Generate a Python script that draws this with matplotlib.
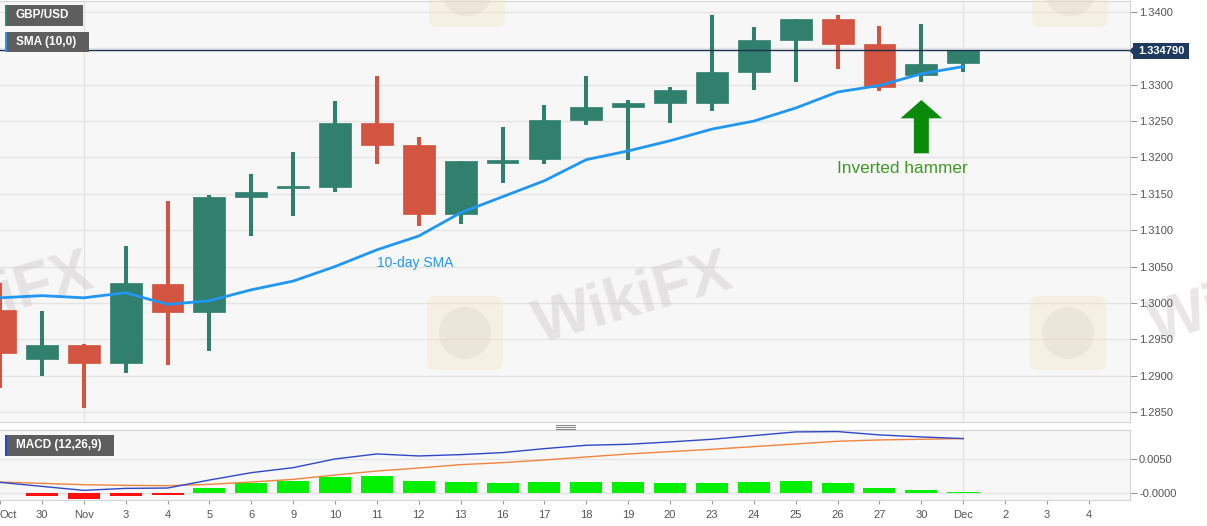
import matplotlib
matplotlib.use('Agg')
import matplotlib.pyplot as plt
from matplotlib.patches import Rectangle, FancyArrow, FancyBboxPatch, Circle, Polygon
from matplotlib.lines import Line2D
from matplotlib.transforms import Affine2D
import numpy as np

plt.rcParams['font.family'] = ['Liberation Sans', 'DejaVu Sans']

# ---------------- data ----------------
dates = ['Oct 29', 'Oct 30', 'Nov 2', 'Nov 3', 'Nov 4', 'Nov 5', 'Nov 6', 'Nov 9',
         'Nov 10', 'Nov 11', 'Nov 12', 'Nov 13', 'Nov 16', 'Nov 17', 'Nov 18',
         'Nov 19', 'Nov 20', 'Nov 23', 'Nov 24', 'Nov 25', 'Nov 26', 'Nov 27',
         'Nov 30', 'Dec 1']
tick_labels = ['Oct', '30', 'Nov', '3', '4', '5', '6', '9', '10', '11', '12', '13',
               '16', '17', '18', '19', '20', '23', '24', '25', '26', '27', '30',
               'Dec', '2', '3', '4']
opens = [1.2990, 1.2923, 1.2942, 1.2918, 1.3026, 1.2988, 1.3146, 1.3158, 1.3160,
         1.3248, 1.3217, 1.3122, 1.3193, 1.3198, 1.3252, 1.3270, 1.3275, 1.3275,
         1.3318, 1.3362, 1.3391, 1.3356, 1.3313, 1.3330]
highs = [1.3027, 1.2989, 1.2943, 1.3078, 1.3140, 1.3148, 1.3177, 1.3208, 1.3278,
         1.3312, 1.3228, 1.3195, 1.3242, 1.3272, 1.3312, 1.3279, 1.3297, 1.3396,
         1.3380, 1.3391, 1.3396, 1.3381, 1.3384, 1.3348]
lows = [1.2883, 1.2900, 1.2855, 1.2904, 1.2915, 1.2934, 1.3092, 1.3119, 1.3153,
        1.3191, 1.3106, 1.3108, 1.3165, 1.3191, 1.3244, 1.3196, 1.3247, 1.3264,
        1.3293, 1.3304, 1.3322, 1.3292, 1.3304, 1.3317]
closes = [1.2931, 1.2942, 1.2918, 1.3027, 1.2988, 1.3145, 1.3153, 1.3161, 1.3248,
          1.3217, 1.3122, 1.3195, 1.3197, 1.3252, 1.3269, 1.3275, 1.3293, 1.3318,
          1.3362, 1.3391, 1.3356, 1.3297, 1.3329, 1.33479]
sma10 = [1.3007, 1.3010, 1.3007, 1.3014, 1.2998, 1.3003, 1.3018, 1.3030, 1.3050,
         1.3073, 1.3092, 1.3124, 1.3146, 1.3168, 1.3197, 1.3209, 1.3223, 1.3239,
         1.3250, 1.3268, 1.3290, 1.3299, 1.3315, 1.3325]
macd_line = [0.00155, 0.00095, 0.00035, 0.00065, 0.0007, 0.0019, 0.0030, 0.00375,
             0.00505, 0.0058, 0.0055, 0.0057, 0.0060, 0.0066, 0.0071, 0.00725,
             0.0076, 0.0080, 0.00855, 0.0091, 0.00915, 0.00865, 0.00835, 0.0081]
signal_line = [0.0016, 0.0014, 0.0012, 0.0011, 0.00105, 0.00125, 0.0016, 0.0020,
               0.00265, 0.00325, 0.0037, 0.0042, 0.0045, 0.0049, 0.00535, 0.0058,
               0.00615, 0.0065, 0.0069, 0.0073, 0.0077, 0.0079, 0.0080, 0.0081]
macd_hist = [-0.0001, -0.0005, -0.00095, -0.00045, -0.0004, 0.0007, 0.0014, 0.00175,
             0.0024, 0.0025, 0.00175, 0.0016, 0.0015, 0.0016, 0.00165, 0.0016,
             0.0015, 0.0015, 0.00165, 0.00175, 0.00145, 0.0007, 0.00035, 0.00015]
price_ticks = [1.2850, 1.2900, 1.2950, 1.3000, 1.3050, 1.3100, 1.3150, 1.3200,
               1.3250, 1.3300, 1.3350, 1.3400]
price_tick_labels = ['1.2850', '1.2900', '1.2950', '1.3000', '1.3050', '1.3100',
                     '1.3150', '1.3200', '1.3250', '1.3300', '', '1.3400']
macd_ticks = [0.0, 0.005]
macd_tick_labels = ['-0.0000', '0.0050']
last_price = 1.334790

# ---------------- style ----------------
GREEN = '#31806e'
RED = '#d35440'
GRID = '#e4e4e4'
SPINE = '#d4d4d4'
TXT = '#555555'
BG = '#f7f7f7'

W, H = 1207, 526
fig = plt.figure(figsize=(W / 100, H / 100), dpi=100)
fig.patch.set_facecolor('white')
pix = Affine2D().scale(1 / W, -1 / H).translate(0, 1) + fig.transFigure

ax = fig.add_axes([0, 1 - 421.5 / H, 1130 / W, 420.5 / H])
axm = fig.add_axes([0, 1 - 500 / H, 1130 / W, 70 / H])

n = len(opens)
x = np.arange(n)
o = np.array(opens); c = np.array(closes)
colors = [GREEN if cc >= oo else RED for oo, cc in zip(opens, closes)]
xmax = 1130 / 41.88

# ---------------- main panel ----------------
ax.set_facecolor(BG)
ax.set_xlim(0, xmax)
ax.set_ylim(1.283694, 1.341513)
ax.set_yticks(price_ticks)
ax.set_yticklabels(price_tick_labels)
ax.yaxis.tick_right()
ax.tick_params(axis='y', direction='out', length=5, width=0.8, color='#9a9a9a',
               labelcolor=TXT, labelsize=8, pad=1.5)
ax.set_xticks([])
ax.grid(axis='y', color=GRID, lw=1, zorder=0)
ax.set_axisbelow(True)
for xv in (2, 23):
    ax.axvline(xv, color=GRID, lw=1, zorder=0)
for s in ax.spines.values():
    s.set_color(SPINE)
ax.spines['left'].set_visible(False)

# watermark (faint, behind marks)
ax.text(-6 / 41.88, 1.34 - (300 - 12) / 7272.7, 'WikiFX', fontsize=44,
        fontweight='bold', color='#cdc8c8', alpha=0.45, rotation=16,
        ha='center', va='center', zorder=1, clip_on=True)
ax.text(633 / 41.88, 1.34 - (300 - 12) / 7272.7, 'WikiFX', fontsize=44,
        fontweight='bold', color='#cdc8c8', alpha=0.45, rotation=16,
        ha='center', va='center', zorder=1, clip_on=True)
for (cx, cy) in [(465, 333), (1068, 333), (467, -10), (1070, -10)]:
    fig.patches.append(FancyBboxPatch((cx - 38, cy - 37), 76, 74,
                                      boxstyle='round,pad=0,rounding_size=8',
                                      transform=pix, facecolor='#f4e6bc',
                                      edgecolor='none', alpha=0.35, zorder=0.5))
    fig.patches.append(Circle((cx, cy), 26, transform=pix, facecolor='#d8d2cc',
                              edgecolor='none', alpha=0.35, zorder=0.6))

ax.vlines(x, lows, highs, colors=colors, lw=2.9, zorder=3)
body_h = np.maximum(np.abs(c - o), 0.0003)
ax.bar(x, body_h, bottom=np.minimum(o, c), width=0.76, color=colors,
       edgecolor=colors, lw=0.5, zorder=4)
ax.plot(x, sma10, color='#2196f3', lw=2.0, zorder=5, solid_capstyle='round')
ax.axhline(last_price, color='#1b2f4f', lw=1, zorder=6)

ax.text(9.91, 1.30542, '10-day SMA', color='#2196f3', fontsize=10,
        ha='center', va='center', zorder=7)
ax.text(21.55, 1.31855, 'Inverted hammer', color='#3d9a23', fontsize=12.4,
        ha='center', va='center', zorder=7)
arrow = FancyArrow(22, 1.32057, 0, 1.3279 - 1.32057, width=0.358,
                   head_width=0.993, head_length=0.00252,
                   length_includes_head=True, color='#0a8a0a', lw=0, zorder=7)
ax.add_patch(arrow)

# right-side watermark fragment, clipped to the label strip
axw = fig.add_axes([1130 / W, 1 - 421.5 / H, 77 / W, 420.5 / H])
axw.set_axis_off()
axw.set_xlim(1130, 1207)
axw.set_ylim(421.5, 1)
axw.text(1248, 300, 'WikiFX', fontsize=44, fontweight='bold', color='#cdc8c8',
         alpha=0.45, rotation=16, ha='center', va='center', clip_on=True)
axw.set_zorder(-1)

# ---------------- MACD panel ----------------
axm.set_facecolor(BG)
axm.set_xlim(0, xmax)
axm.set_ylim(-0.00109, 0.009386)
hcol = ['#00f000' if h >= 0 else '#ff0f0f' for h in macd_hist]
axm.bar(x, macd_hist, width=0.765, color=hcol, zorder=3)
axm.plot(x, signal_line, color='#f0843c', lw=1.0, zorder=4)
axm.plot(x, macd_line, color='#2f48c8', lw=1.0, zorder=5)
axm.set_yticks(macd_ticks)
axm.set_yticklabels(macd_tick_labels)
axm.yaxis.tick_right()
axm.grid(axis='y', color=GRID, lw=1, zorder=0)
axm.axvline(23, color=GRID, lw=1, zorder=0)
axm.set_axisbelow(True)
axm.set_xticks(np.arange(len(tick_labels)))
axm.set_xticklabels(tick_labels)
axm.get_xticklabels()[0].set_ha('left')
axm.tick_params(axis='x', direction='out', length=3, width=0.8, color='#9a9a9a',
                labelcolor=TXT, labelsize=8, pad=4)
axm.tick_params(axis='y', direction='out', length=5, width=0.8, color='#9a9a9a',
                labelcolor=TXT, labelsize=8, pad=1.5)
for s in axm.spines.values():
    s.set_color(SPINE)
axm.spines['left'].set_visible(False)

# ---------------- labels / boxes ----------------
def label_box(x0, y0, x1, y1, stripe, text, fc='#5e5e5e'):
    fig.patches.append(Rectangle((x0, y0), x1 - x0, y1 - y0, transform=pix,
                                 facecolor=fc, edgecolor='none', zorder=8))
    fig.patches.append(Rectangle((x0, y0), 2, y1 - y0, transform=pix,
                                 facecolor=stripe, edgecolor='none', zorder=9))
    fig.text(16 / W, 1 - (y0 + y1) / 2 / H, text, color='white', fontsize=8.5,
             fontweight='bold', ha='left', va='center', zorder=10)

label_box(5, 5, 83.3, 25.7, '#2e8b6e', 'GBP/USD')
label_box(5, 32.3, 89, 52.3, '#2196f3', 'SMA (10,0)')
label_box(5, 435, 114, 455.7, '#2a44c8', 'MACD (12,26,9)')

# price label
fig.patches.append(Rectangle((1133, 42.7), 56.3, 16.3, transform=pix,
                             facecolor='#1e3a5f', edgecolor='none', zorder=8))
fig.patches.append(Polygon([(1129.5, 50.8), (1133.5, 46.5), (1133.5, 55.1)],
                           closed=True, transform=pix, facecolor='#1e3a5f',
                           edgecolor='none', zorder=8))
fig.text(1161 / W, 1 - 50.9 / H, f'{last_price:.6f}', color='white', fontsize=8,
         fontweight='bold', ha='center', va='center', zorder=10)

# panel separator handle
for yy in (424.5, 426.5, 428.5):
    fig.lines.append(Line2D([556, 575], [yy, yy], transform=pix, color='#8a8a8a',
                            lw=0.8, zorder=8))

fig.savefig('out.png', dpi=100, facecolor='white')
